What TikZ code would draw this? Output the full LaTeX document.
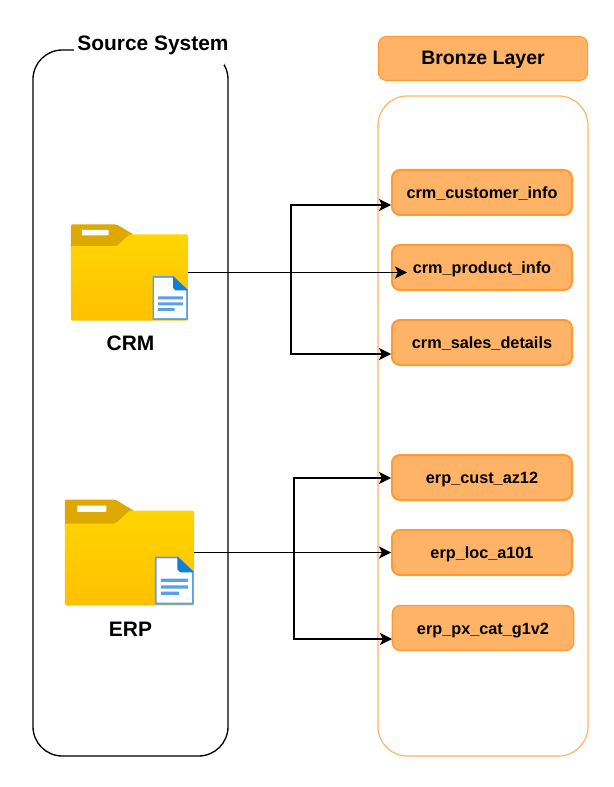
\documentclass[tikz,border=0pt]{standalone}
\usepackage{fontspec}
\setmainfont{Liberation Sans}
\usepackage{xcolor}
\usetikzlibrary{arrows.meta}
\definecolor{bronze}{HTML}{FFB366}
\definecolor{bronzeline}{HTML}{FF9933}
\definecolor{tabcol}{HTML}{DFA800}
\definecolor{foldertop}{HTML}{FFD500}
\definecolor{folderbottom}{HTML}{FFC000}
\definecolor{docblue}{HTML}{0F7FDC}
\definecolor{docedge}{HTML}{5A9FEE}
\tikzset{
	table/.style={draw=bronzeline,fill=bronze,line width=1.5pt,rounded corners=6pt,
		minimum width=135pt,minimum height=33.75pt,inner sep=0pt,text height=11.8pt,text depth=2.2pt,
		font=\bfseries\fontsize{12.2}{14}\selectfont},
	title/.style={font=\bfseries\fontsize{15.7}{18}\selectfont,inner sep=0pt,text height=11pt,text depth=1pt},
	panel/.style={line width=1pt,rounded corners=22pt,inner sep=0pt},
	folderbox/.style={inner sep=0pt,minimum width=88pt,minimum height=72pt},
	link/.style={-{Stealth[length=9pt,width=9pt,inset=2.2pt]},line width=0.85pt},
	foldericon/.pic={
		% drawn around its centre, in the units of the small folder
		\fill[tabcol,rounded corners=1pt] (-58.7,-20) -- (-58.7,-48) -- (-12.7,-48) -- (4,-38) -- (4,-20) -- cycle;
		\fill[white,rounded corners=0.5pt] (-47.7,-42.7) rectangle (-21,-37);
		\shade[top color=foldertop,bottom color=folderbottom,rounded corners=1pt]
			(-58.7,48) -- (-58.7,-26.3) -- (-12.7,-26.3) -- (0,-38) -- (58.7,-38) -- (58.7,48) -- cycle;
		\fill[docedge] (23,3.7) -- (44.3,3.7) -- (58.3,17.5) -- (58.3,47.3) -- (23,47.3) -- cycle;
		\fill[white] (24.7,5.4) -- (43.5,5.4) -- (56.6,18.5) -- (56.6,45.6) -- (24.7,45.6) -- cycle;
		\fill[docblue] (43.5,3.7) -- (58.3,17.5) -- (58.3,18) -- (46,18) -- (43.5,15.5) -- cycle;
		\fill[docedge] (28.6,23.8) rectangle (53.3,26.8)
			(28.6,29.8) rectangle (53.3,32.8)
			(28.6,35.5) rectangle (45,38.5);
	}
}
\begin{document}
\begin{tikzpicture}[x=0.75pt,y=-0.75pt]
		\useasboundingbox (0,0) rectangle (613,787);
		% source side
		\node[panel,draw=black,fill=white,minimum width=146.25pt,minimum height=529.5pt] (source) at (130.5,403) {};
		\node[fill=white,inner sep=0pt,minimum width=112.5pt,minimum height=26.25pt] (sourcegap) at (149,47.5) {};
		\node[title] (sourcetitle) at (153,44) {Source System};
		\node[folderbox] (crm) at (129.5,272.5) {};
		\pic at (crm.center) {foldericon};
		\node[title] (crmname) at (130.5,344.3) {CRM};
		\node[folderbox,minimum width=96.75pt,minimum height=78.75pt] (erp) at (129.5,552.5) {};
		\pic[scale=1.1] at (erp.center) {foldericon};
		\node[title] (erpname) at (130.5,630) {ERP};
		% bronze side
		\node[panel,draw=bronze,fill=white,line width=0.9pt,minimum width=157.5pt,minimum height=495pt] (bronzepanel) at (483,426) {};
		\node[table,line width=0.75pt,minimum width=157pt,minimum height=33pt,text height=10pt,text depth=1.3pt,
			font=\bfseries\fontsize{14.6}{17}\selectfont] (bronzetitle) at (483,58.5) {Bronze Layer};
		\node[table] (cust) at (482,192.5) {crm\_customer\_info};
		\node[table] (prod) at (482,267.5) {crm\_product\_info};
		\node[table] (sales) at (482,342.5) {crm\_sales\_details};
		\node[table] (az) at (482,477.5) {erp\_cust\_az12};
		\node[table] (loc) at (482,552.5) {erp\_loc\_a101};
		\node[table,line width=1pt,minimum width=136pt] (px) at (483,628) {erp\_px\_cat\_g1v2};
		%
		\coordinate (custin) at (391,205);
		\coordinate (prodin) at (407,272.5);
		\coordinate (salesin) at (391,354);
		\coordinate (azin) at (391,478);
		\coordinate (locin) at (391,552.5);
		\coordinate (pxin) at (392,639);
		\coordinate (crmjoin) at (291,272.5);
		\coordinate (erpjoin) at (294,552.5);
		%
		\path[link]
		% horizontal arrows
		(crm.east) edge (prodin)
		(erp.east) edge (locin);
		% arrows round the corner
		\draw[link] (crm.east) -- (crmjoin) |- (custin);
		\draw[link] (crm.east) -- (crmjoin) |- (salesin);
		\draw[link] (erp.east) -- (erpjoin) |- (azin);
		\draw[link] (erp.east) -- (erpjoin) |- (pxin);
	\end{tikzpicture}
\end{document}
